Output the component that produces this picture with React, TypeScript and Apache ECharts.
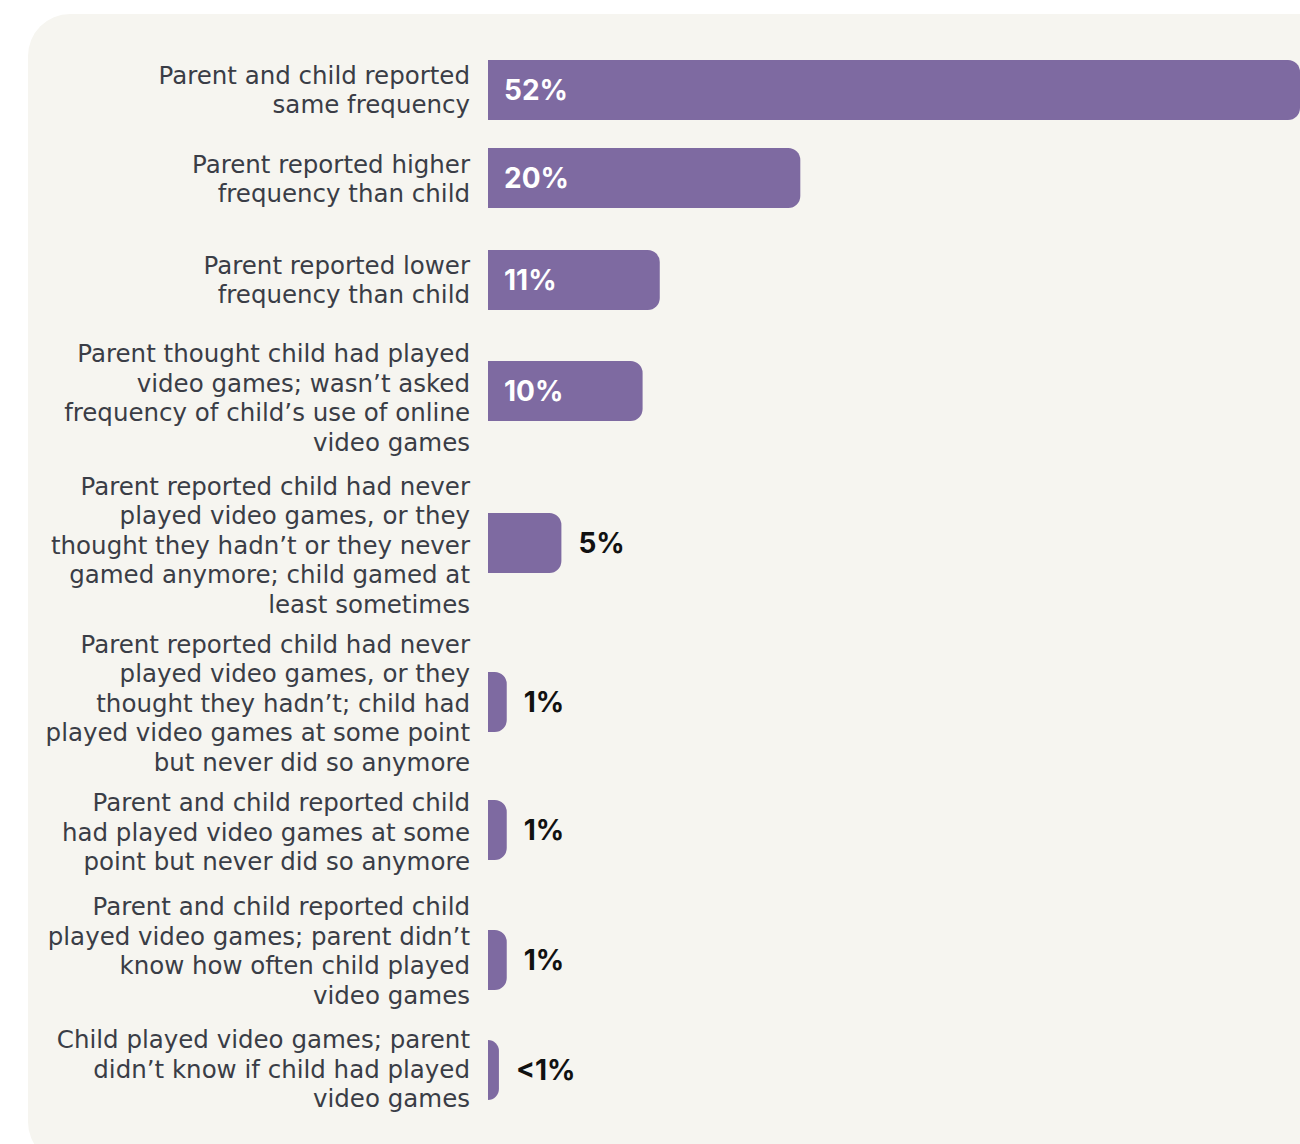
import React, { useEffect, useRef } from "react";
import * as echarts from "echarts";

const categories = [
  "Parent and child reported\nsame frequency",
  "Parent reported higher\nfrequency than child",
  "Parent reported lower\nfrequency than child",
  "Parent thought child had played\nvideo games; wasn’t asked\nfrequency of child’s use of online\nvideo games",
  "Parent reported child had never\nplayed video games, or they\nthought they hadn’t or they never\ngamed anymore; child gamed at\nleast sometimes",
  "Parent reported child had never\nplayed video games, or they\nthought they hadn’t; child had\nplayed video games at some point\nbut never did so anymore",
  "Parent and child reported child\nhad played video games at some\npoint but never did so anymore",
  "Parent and child reported child\nplayed video games; parent didn’t\nknow how often child played\nvideo games",
  "Child played video games; parent\ndidn’t know if child had played\nvideo games",
];
const values = [52, 20, 11, 9.9, 4.7, 1.2, 1.2, 1.2, 0.7];
const valueLabels = ["52%", "20%", "11%", "10%", "5%", "1%", "1%", "1%", "<1%"];

// layout (row centres in px and label vertical shift in px)
const rowCenters = [90, 178, 280, 391, 543, 702, 830, 960, 1070];
const labelShift = [0, 1, 0, 7, 2, 1, 2, -9, -1];

const BAR_COLOR = "#7e6aa1";
const LABEL_FONT = "'DejaVu Sans', sans-serif";
const VALUE_FONT = "Inter, sans-serif";

export default function App() {
  const ref = useRef<HTMLDivElement>(null);
  useEffect(() => {
    if (!ref.current) return;
    const chart = echarts.init(ref.current, null, { renderer: "svg" });
    const grids = values.map((_, i) => ({
      left: 488,
      right: 0,
      top: rowCenters[i] - 30,
      height: 60,
      containLabel: false,
    }));
    const xAxes = values.map((_, i) => ({
      type: "value",
      gridIndex: i,
      min: 0,
      max: 52,
      show: false,
    }));
    const yAxes = values.map((_, i) => ({
      type: "category",
      gridIndex: i,
      data: [categories[i]],
      axisLine: { show: false },
      axisTick: { show: false },
      splitLine: { show: false },
      axisLabel: { show: false },
    }));
    const series: any[] = [];
    values.forEach((v, i) => {
      const inside = v >= 9;
      series.push({
        type: "bar",
        xAxisIndex: i,
        yAxisIndex: i,
        barWidth: 60,
        barGap: "-100%",
        data: [v],
        itemStyle: { color: BAR_COLOR, borderRadius: [0, 12, 12, 0] },
        label: {
          show: true,
          formatter: valueLabels[i],
          position: inside ? "insideLeft" : "right",
          distance: inside ? 16 : 17,
          color: inside ? "#ffffff" : "#111111",
          fontFamily: VALUE_FONT,
          fontWeight: "bold",
          fontSize: 28,
        },
      });
      // category text, drawn as the label of a zero-length companion bar
      series.push({
        type: "bar",
        xAxisIndex: i,
        yAxisIndex: i,
        barWidth: 60,
        barGap: "-100%",
        silent: true,
        data: [0],
        itemStyle: { color: "transparent" },
        label: {
          show: true,
          formatter: categories[i],
          position: "left",
          distance: 18,
          align: "right",
          verticalAlign: "middle",
          offset: [0, labelShift[i]],
          color: "#3a3d46",
          fontFamily: LABEL_FONT,
          fontSize: 24.5,
          lineHeight: 29.5,
        },
      });
    });
    chart.setOption({
      animation: false,
      backgroundColor: "#ffffff",
      graphic: [
        {
          type: "rect",
          z: -10,
          shape: { x: 28, y: 14, width: 1320, height: 1150, r: 42 },
          style: { fill: "#f6f5f0" },
        },
      ],
      grid: grids,
      xAxis: xAxes,
      yAxis: yAxes,
      series,
    });
    return () => chart.dispose();
  }, []);
  return (
    <div
      ref={ref}
      style={{ position: "absolute", left: 0, top: 0, width: 1300, height: 1144 }}
    />
  );
}
